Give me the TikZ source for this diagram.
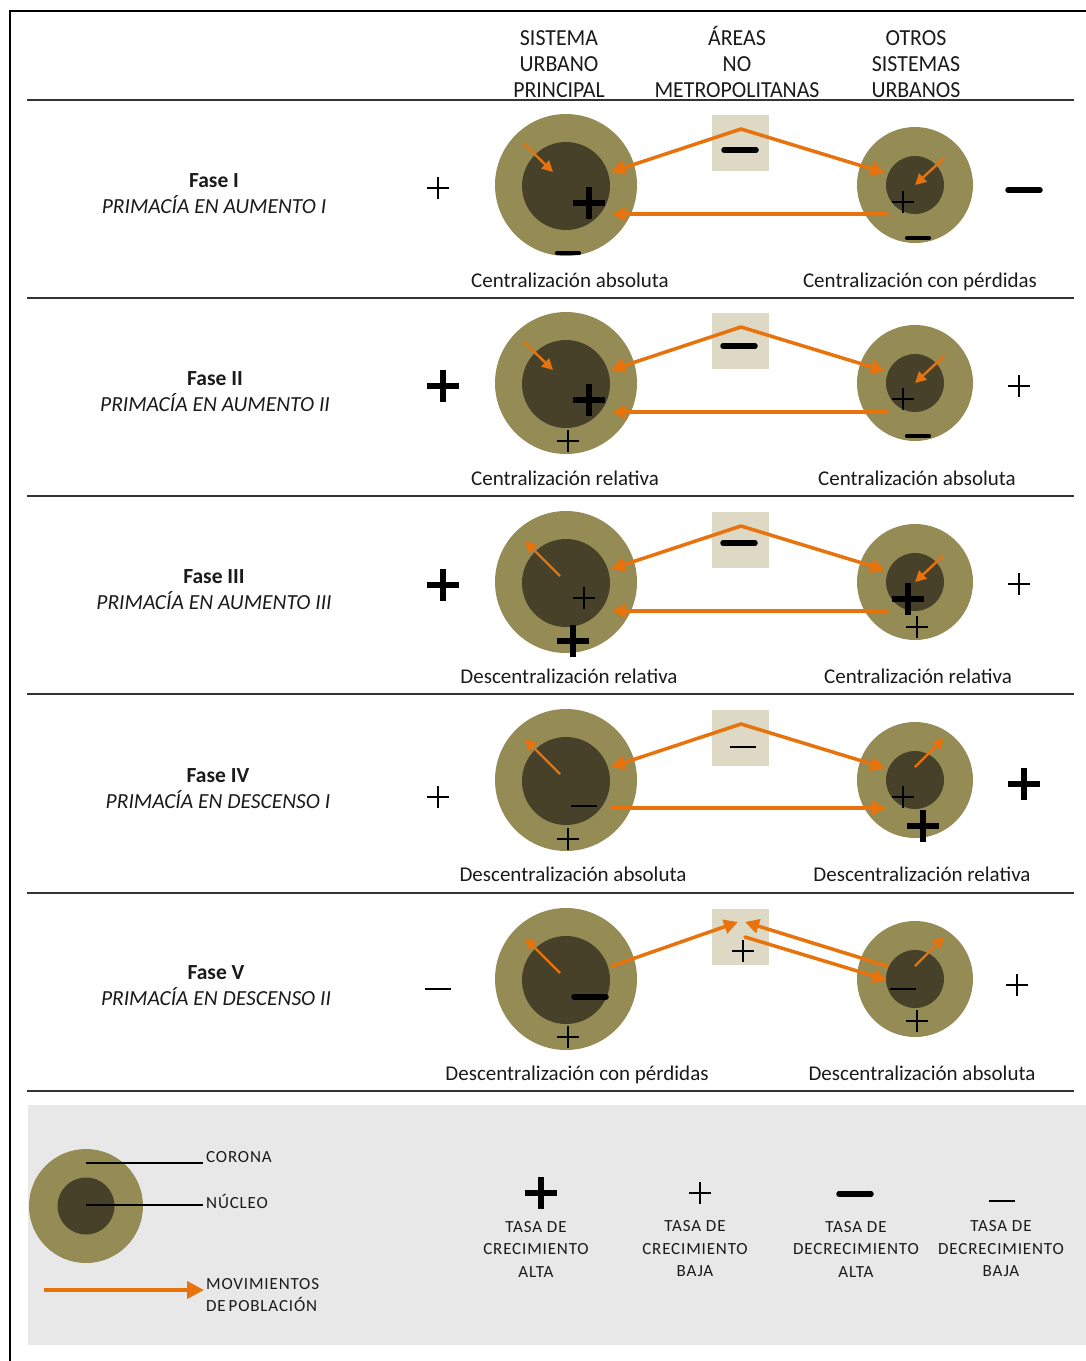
\documentclass[tikz,border=0pt]{standalone}
\usepackage{fontspec}
\setmainfont{Carlito}
\newfontfamily\hdrfont[FakeStretch=0.95]{Carlito}
\newfontfamily\lgdfont[LetterSpace=5]{Carlito}
\usetikzlibrary{arrows.meta}

\definecolor{coronacol}{HTML}{958B55}
\definecolor{corecol}{HTML}{47412A}
\definecolor{flowcol}{HTML}{E8720C}
\definecolor{nomet}{HTML}{DDD9C4}
\definecolor{legendbg}{HTML}{E8E8E8}
\definecolor{ink}{HTML}{1A1A1A}

\tikzset{
  corona/.style={circle,fill=coronacol,inner sep=0pt},
  core/.style={circle,fill=corecol,inner sep=0pt},
  nmbox/.style={fill=nomet,inner sep=0pt,minimum width=57pt,minimum height=56pt},
  flow/.style={draw=flowcol,line width=3.5pt,line cap=round,-{Triangle[length=14pt,width=14pt]}},
  innerflow/.style={draw=flowcol,line width=2.4pt,-{Triangle[length=11pt,width=11pt]}},
  rowrule/.style={draw=black!80,line width=2.6pt},
  hdr/.style={align=center,text=ink,inner sep=0pt,font=\hdrfont\fontsize{23}{26}\selectfont},
  fase/.style={align=center,text=ink,inner sep=0pt,font=\fontsize{21.5}{26}\selectfont},
  caption/.style={text=ink,inner sep=0pt,text height=14pt,text depth=5pt,yshift=-3pt,font=\fontsize{21}{24}\selectfont},
  lgd/.style={text=ink,inner sep=0pt,font=\lgdfont\fontsize{17}{22.5}\selectfont},
  bigplus/.pic={\draw[line width=5.5pt,black] (-16,0)--(16,0) (0,-16)--(0,16);},
  smallplus/.pic={\draw[line width=2.6pt,black] (-11,0)--(11,0) (0,-11)--(0,11);},
  bigminus/.pic={\draw[line width=5.5pt,black,line cap=round] (-16,0)--(16,0);},
  midminus/.pic={\draw[line width=4.2pt,black,line cap=round] (-11,0)--(11,0);},
  smallminus/.pic={\draw[line width=2.6pt,black] (-13,0)--(13,0);},
}

\begin{document}
\begin{tikzpicture}[x=1pt,y=-1pt]
\useasboundingbox (0,0) rectangle (1086,1361);

% outer frame
\draw[line width=2pt,black] (10,1361) -- (10,11) -- (1086,11);

% column headers
\node[hdr] (hsup) at (559,61.5) {\vphantom{Á}SISTEMA\\URBANO\\PRINCIPAL};
\node[hdr] (hanm) at (737,61.5) {ÁREAS\\NO\\METROPOLITANAS};
\node[hdr] (hosu) at (916,61.5) {\vphantom{Á}OTROS\\SISTEMAS\\URBANOS};

% row rules
\foreach \yy in {100,298,496,694,893,1091}
  \draw[rowrule] (27,\yy) -- (1074,\yy);

% circles and non-metropolitan boxes of every phase
\foreach \i/\dy in {1/0,2/198,3/397,4/595,5/794} {
  \node[corona,minimum size=142pt] (L\i) at (566,185+\dy) {};
  \node[core,minimum size=88pt] (Lc\i) at (566,186+\dy) {};
  \node[corona,minimum size=116pt] (R\i) at (915,185+\dy) {};
  \node[core,minimum size=58pt] (Rc\i) at (915,185+\dy) {};
  \node[nmbox] (B\i) at (740,143+\dy) {};
}

% flows for phases I-IV (peak over the box)
\foreach \i/\dy in {1/0,2/198,3/397,4/595} {
  \coordinate (P\i) at (741,129+\dy);
  \coordinate (La\i) at (611,172+\dy);
  \coordinate (Ra\i) at (885,173+\dy);
  \draw[flow] (P\i) -- (La\i);
  \draw[flow] (P\i) -- (Ra\i);
}
% lower flows
\foreach \i/\dy in {1/0,2/198,3/397} {
  \coordinate (Ls\i) at (612,214+\dy);
  \coordinate (Rs\i) at (887,214+\dy);
  \draw[flow] (Rs\i) -- (Ls\i);
}
\coordinate (Ls4) at (612,808);
\coordinate (Rs4) at (886,808);
\draw[flow] (Ls4) -- (Rs4);

% phase V flows
\coordinate (Lo5) at (612,966);
\coordinate (Bl5) at (738,922);
\coordinate (Ro5) at (887,966);
\coordinate (Br5) at (745,922);
\coordinate (Bo5) at (745,937);
\coordinate (Ri5) at (887,980);
\draw[flow] (Lo5) -- (Bl5);
\draw[flow] (Ro5) -- (Br5);
\draw[flow] (Bo5) -- (Ri5);

% flows between corona and core
\foreach \i/\dy in {1/0,2/198} {
  \coordinate (ci\i) at (523,143+\dy);
  \coordinate (ce\i) at (553,172+\dy);
  \draw[innerflow] (ci\i) -- (ce\i);
}
\foreach \i/\dy in {3/397,4/595,5/794} {
  \coordinate (ci\i) at (560,179+\dy);
  \coordinate (ce\i) at (525,144+\dy);
  \draw[innerflow] (ci\i) -- (ce\i);
}
\foreach \i/\dy in {1/0,2/198,3/397} {
  \coordinate (di\i) at (944,158+\dy);
  \coordinate (de\i) at (915,185+\dy);
  \draw[innerflow] (di\i) -- (de\i);
}
\foreach \i/\dy in {4/595,5/794} {
  \coordinate (di\i) at (915,172+\dy);
  \coordinate (de\i) at (944,143+\dy);
  \draw[innerflow] (di\i) -- (de\i);
}

% growth signs, phase I
\pic at (438,188) {smallplus};
\pic at (589,203) {bigplus};
\pic at (568,253) {midminus};
\pic at (740,150) {bigminus};
\pic at (903,202) {smallplus};
\pic at (918,238) {midminus};
\pic at (1024,190) {bigminus};
% phase II
\pic at (443,386) {bigplus};
\pic at (589,400) {bigplus};
\pic at (568,441) {smallplus};
\pic at (739,346) {bigminus};
\pic at (903,399) {smallplus};
\pic at (918,436) {midminus};
\pic at (1019,386) {smallplus};
% phase III
\pic at (443,585) {bigplus};
\pic at (584,598) {smallplus};
\pic at (573,641) {bigplus};
\pic at (739,543) {bigminus};
\pic at (908,599) {bigplus};
\pic at (917,627) {smallplus};
\pic at (1019,584) {smallplus};
% phase IV
\pic at (438,797) {smallplus};
\pic at (584,806) {smallminus};
\pic at (568,839) {smallplus};
\pic at (743,747) {smallminus};
\pic at (903,797) {smallplus};
\pic at (923,826) {bigplus};
\pic at (1024,784) {bigplus};
% phase V
\pic at (438,989) {smallminus};
\pic at (590,997) {bigminus};
\pic at (568,1037) {smallplus};
\pic at (743,951) {smallplus};
\pic at (903,989) {smallminus};
\pic at (917,1021) {smallplus};
\pic at (1017,985) {smallplus};

% phase names
\node[fase] (f1) at (214,194) {\textbf{Fase I}\\\textit{PRIMACÍA EN AUMENTO I}};
\node[fase] (f2) at (215,392) {\textbf{Fase II}\\\textit{PRIMACÍA EN AUMENTO II}};
\node[fase] (f3) at (214,590) {\textbf{Fase III}\\\textit{PRIMACÍA EN AUMENTO III}};
\node[fase] (f4) at (218,789) {\textbf{Fase IV}\\\textit{PRIMACÍA EN DESCENSO I}};
\node[fase] (f5) at (216,986) {\textbf{Fase V}\\\textit{PRIMACÍA EN DESCENSO II}};

% captions under the circles
\node[caption] (c1l) at (570,280) {Centralización absoluta};
\node[caption] (c1r) at (920,280) {Centralización con pérdidas};
\node[caption] (c2l) at (565,478) {Centralización relativa};
\node[caption] (c2r) at (917,478) {Centralización absoluta};
\node[caption] (c3l) at (569,676) {Descentralización relativa};
\node[caption] (c3r) at (918,676) {Centralización relativa};
\node[caption] (c4l) at (573,874) {Descentralización absoluta};
\node[caption] (c4r) at (922,874) {Descentralización relativa};
\node[caption] (c5l) at (577,1073) {Descentralización con pérdidas};
\node[caption] (c5r) at (922,1073) {Descentralización absoluta};

% legend
\fill[legendbg] (28,1105) rectangle (1086,1345);
\node[corona,minimum size=114pt] (kc) at (86,1206) {};
\node[core,minimum size=57pt] (kn) at (86,1206) {};
\coordinate (kca) at (86,1163);
\coordinate (kcb) at (203,1163);
\coordinate (kna) at (86,1205);
\coordinate (knb) at (203,1205);
\draw[line width=2pt,black] (kca) -- (kcb);
\draw[line width=2pt,black] (kna) -- (knb);
\node[lgd,anchor=west] (kct) at (206,1157) {CORONA};
\node[lgd,anchor=west] (knt) at (206,1201) {NÚCLEO};
\coordinate (kfa) at (44,1290);
\coordinate (kfb) at (204,1290);
\draw[draw=flowcol,line width=4pt,-{Triangle[length=17pt,width=17pt]}] (kfa) -- (kfb);
\node[lgd,anchor=west,align=left] (kft) at (206,1295) {MOVIMIENTOS\\DE\,POBLACIÓN};

\pic at (541,1193) {bigplus};
\pic at (700,1193) {smallplus};
\pic at (855,1194) {bigminus};
\pic at (1002,1201) {smallminus};
\node[lgd,align=center] (k1) at (536,1249) {TASA DE\\CRECIMIENTO\\ALTA};
\node[lgd,align=center] (k2) at (695,1249) {TASA DE\\CRECIMIENTO\\BAJA};
\node[lgd,align=center] (k3) at (856,1249) {TASA DE\\DECRECIMIENTO\\ALTA};
\node[lgd,align=center] (k4) at (1001,1249) {TASA DE\\DECRECIMIENTO\\BAJA};
\end{tikzpicture}
\end{document}
